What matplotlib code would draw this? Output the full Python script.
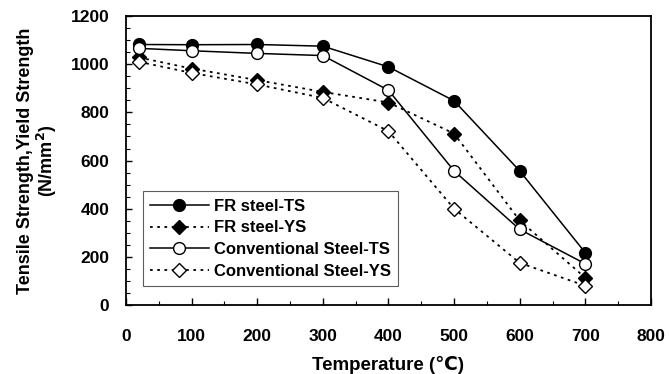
import matplotlib
matplotlib.use("Agg")
import matplotlib.pyplot as plt
from matplotlib.ticker import MultipleLocator

plt.rcParams['font.family'] = ['Liberation Sans', 'DejaVu Sans']
plt.rcParams['font.weight'] = 'bold'

temps = [20, 100, 200, 300, 400, 500, 600, 700]
fr_ts = [1082, 1081, 1082, 1075, 989, 848, 557, 217]
fr_ys = [1028, 982, 934, 885, 841, 712, 351, 113]
conv_ts = [1066, 1056, 1045, 1036, 892, 557, 314, 171]
conv_ys = [1010, 964, 916, 860, 722, 400, 175, 80]

labels = ['FR steel-TS', 'FR steel-YS', 'Conventional Steel-TS', 'Conventional Steel-YS']
x_ticks = [0, 100, 200, 300, 400, 500, 600, 700, 800]
y_ticks = [0, 200, 400, 600, 800, 1000, 1200]

fig = plt.figure(figsize=(6.69, 3.74), dpi=100)
ax = fig.add_axes([0.1883, 0.1845, 0.7847, 0.7725])

dot = (0, (1.5, 2.5))
ax.plot(temps, fr_ts, color='black', lw=1.1, ls='-', marker='o', ms=8.5,
        mfc='black', mec='black', label=labels[0])
ax.plot(temps, fr_ys, color='black', lw=1.3, ls=dot, marker='D', ms=7.5,
        mfc='black', mec='black', label=labels[1])
ax.plot(temps, conv_ts, color='black', lw=1.1, ls='-', marker='o', ms=8.5,
        mfc='white', mec='black', mew=1.0, label=labels[2])
ax.plot(temps, conv_ys, color='black', lw=1.3, ls=dot, marker='D', ms=7.5,
        mfc='white', mec='black', mew=1.0, label=labels[3])

ax.set_xlim(0, 800)
ax.set_ylim(0, 1200)
ax.set_xticks(x_ticks)
ax.set_yticks(y_ticks)
ax.xaxis.set_minor_locator(MultipleLocator(50))
ax.yaxis.set_minor_locator(MultipleLocator(50))
ax.tick_params(which='both', direction='in', color='black')
ax.tick_params(axis='x', which='major', length=5, width=1, pad=17, labelsize=12.5)
ax.tick_params(axis='y', which='major', length=4, width=1, pad=12, labelsize=12.5)
ax.tick_params(which='minor', length=3, width=0.8)
for s in ax.spines.values():
    s.set_linewidth(1.3)
    s.set_color('black')

ax.set_xlabel('Temperature (℃)', fontsize=13.5, fontweight='bold', labelpad=9)
ax.set_ylabel('Tensile Strength,Yield Strength\n(N/mm$^\\mathbf{2}$)', fontsize=13,
              fontweight='bold', labelpad=8, linespacing=1.05)

leg = ax.legend(loc='lower left', bbox_to_anchor=(0.032, 0.065), fontsize=12,
                frameon=True, fancybox=False, handlelength=3.5, borderpad=0.45,
                labelspacing=0.4, handletextpad=0.3, borderaxespad=0)
leg.get_frame().set_edgecolor('#333333')
leg.get_frame().set_linewidth(0.8)
for t in leg.get_texts():
    t.set_fontweight('bold')

fig.savefig('out.png', dpi=100)
